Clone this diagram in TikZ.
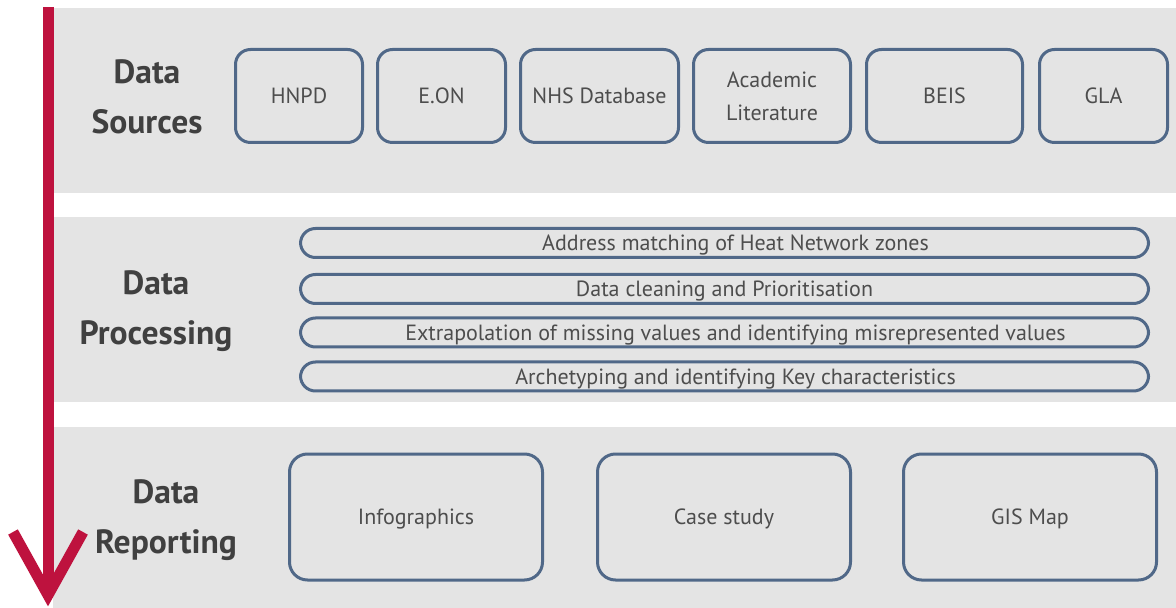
\documentclass[tikz,border=0pt]{standalone}
\usepackage{fontspec}
\setmainfont{PT Sans}
\usetikzlibrary{calc}

\definecolor{bandgrey}{RGB}{228,228,228}
\definecolor{flowred}{RGB}{190,18,62}
\definecolor{boxblue}{RGB}{80,104,136}
\definecolor{headgrey}{RGB}{64,64,64}
\definecolor{textgrey}{RGB}{77,77,77}

\tikzset{
  band/.style={fill=bandgrey, draw=none},
  stage/.style={font=\fontsize{16.8}{25}\selectfont\bfseries, text=headgrey, align=center},
  source/.style={draw=boxblue, line width=1.5pt, rounded corners=7.5pt,
    minimum height=46.5pt, inner sep=0pt, text=textgrey, align=center,
    font=\fontsize{11}{16.5}\selectfont},
  task/.style={draw=boxblue, line width=1.5pt, rounded corners=7.5pt,
    minimum width=424pt, minimum height=14.5pt, inner sep=0pt, text=textgrey,
    text height=7.7pt, text depth=0pt, font=\fontsize{11}{12}\selectfont},
  output/.style={draw=boxblue, line width=1.5pt, rounded corners=9pt,
    minimum width=126.5pt, minimum height=63pt, inner sep=0pt, text=textgrey,
    text height=7.7pt, text depth=0pt, font=\fontsize{11}{12}\selectfont},
  flowarrow/.style={draw=flowred, line width=5.5pt}
}
\newcommand{\offcentre}{\hspace*{11pt}}

\begin{document}
\begin{tikzpicture}[x=0.5pt, y=-0.5pt]
            \useasboundingbox (0,0) rectangle (1176,608);

            % bands
            \fill[band] (53,8) rectangle (1176,193);
            \fill[band] (53,217) rectangle (1176,402);
            \fill[band] (53,427) rectangle (1176,608);

            % flow arrow
            \coordinate (flowtop) at (48,7);
            \coordinate (flowend) at (48,595);
            \draw[flowarrow] (flowtop) -- (flowend);
            \draw[flowarrow, line join=miter] ($(flowend)+(-35,-63)$) -- (flowend) -- ($(flowend)+(35,-63)$);

            % stages
            \node[stage] (sources) at (147,97) {Data\\Sources};
            \node[stage] (processing) at (156,311) {Data\\Processing};
            \node[stage] (reporting) at (166,520) {Data\\Reporting};

            % data sources
            \node[source, minimum width=63.5pt] (hnpd) at (299,96) {HNPD};
            \node[source, minimum width=64pt] (eon) at (441.5,96) {E.ON};
            \node[source, minimum width=79pt] (nhs) at (599.5,96) {NHS Database};
            \node[source, minimum width=78.5pt] (lit) at (772,96) {Academic\\Literature};
            \node[source, minimum width=78pt] (beis) at (944.5,96) {BEIS};
            \node[source, minimum width=64pt] (gla) at (1103.5,96) {GLA};

            % processing steps
            \node[task] (matching) at (724.5,243) {\offcentre Address matching of Heat Network zones};
            \node[task] (cleaning) at (724.5,289) {Data cleaning and Prioritisation};
            \node[task] (extrap) at (724.5,332.5) {\offcentre Extrapolation of missing values and identifying misrepresented values};
            \node[task] (archetype) at (724.5,376.5) {\offcentre Archetyping and identifying Key characteristics};

            % outputs
            \node[output] (infographics) at (416,517) {Infographics};
            \node[output] (casestudy) at (724,517) {Case study};
            \node[output] (gismap) at (1030,517) {GIS Map};
        \end{tikzpicture}
\end{document}
